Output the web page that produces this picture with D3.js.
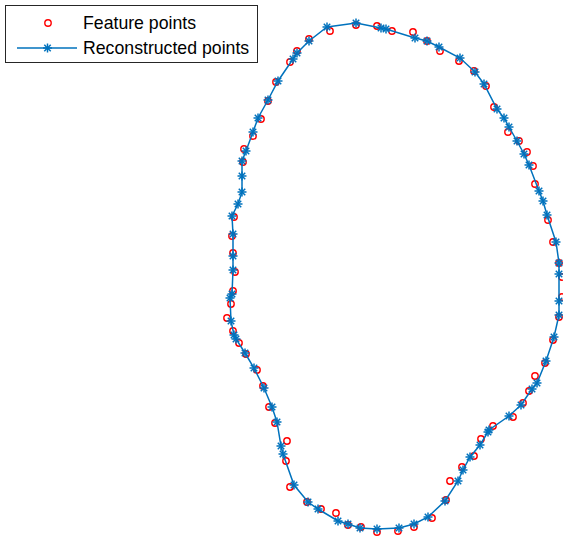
<!DOCTYPE html>
<html>
<head>
<meta charset="utf-8">
<script src="https://cdn.jsdelivr.net/npm/d3@7"></script>
<style>
    body { margin: 0; background: #fff; }
    svg { display: block; }
</style>
</head>
<body>
<div id="chart"></div>
<script>
// feature points (measured contour)
var featureX = [-3.9, -1.8, -0.3, 1.8, 3.2, 4.5, 6.4, 7.9, 9.1, 9.9, 11.3, 12.4, 13.2, 13.8, 14.0, 15.3, 15.8, 16.4, 16.7, 16.7,
    16.4, 15.8, 15.0, 14.0, 13.4, 12.8, 11.8, 9.8, 8.6, 7.9, 6.7, 5.5, 5.1, 3.7, 1.9, 0.3, -1.8, -3.4, -4.7, -5.9,
    -7.4, -8.8, -10.5, -10.9, -10.8, -12.0, -12.6, -13.2, -13.8, -14.9, -15.6, -16.2, -16.8, -16.4, -16.2, -16.0, -16.2, -16.3, -16.1, -15.2,
    -15.1, -14.2, -13.4, -12.7, -11.9, -10.5, -9.8, -8.6, -6.5];
var featureY = [25.2, 25.1, 24.6, 24.5, 23.6, 22.6, 21.6, 20.6, 19.1, 17.0, 14.5, 13.6, 12.5, 11.1, 9.3, 5.7, 3.5, 1.4, 0.0, -2.0,
    -4.0, -6.3, -8.6, -9.9, -11.4, -12.6, -14.0, -14.9, -16.2, -17.9, -19.0, -20.4, -22.3, -24.1, -25.0, -25.4, -25.5, -25.0, -24.8, -23.6,
    -23.2, -22.5, -21.0, -18.4, -16.4, -14.6, -13.0, -10.9, -9.3, -7.7, -6.6, -5.4, -4.1, -2.7, -1.4, 0.5, 2.4, 4.1, 6.0, 11.5,
    12.8, 14.1, 15.8, 17.6, 19.5, 21.5, 22.6, 23.8, 24.6];

// reconstructed points (closed curve)
var reconX = [-3.9, -1.4, -0.9, 2.0, 3.2, 4.4, 6.5, 8.0, 8.9, 10.2, 10.9, 11.4, 12.2, 12.9, 13.4, 14.4, 14.8, 15.2, 16.1, 16.4,
    16.4, 16.4, 16.4, 15.9, 15.1, 14.2, 13.7, 12.6, 11.4, 9.4, 9.3, 8.5, 7.5, 6.8, 6.3, 5.0, 3.3, 1.9, 0.4, -1.8,
    -3.5, -4.7, -5.7, -7.7, -8.7, -10.1, -11.2, -11.4, -11.8, -12.3, -13.1, -14.1, -15.0, -15.9, -16.1, -16.4, -16.5, -16.3, -16.2, -16.2,
    -16.2, -16.3, -15.7, -15.3, -15.3, -15.3, -14.9, -14.2, -13.7, -12.7, -11.7, -10.2, -9.8, -8.6, -6.8];
var reconY = [25.4, 24.9, 24.8, 23.9, 23.6, 23.0, 21.9, 20.5, 19.3, 16.8, 15.9, 15.0, 13.6, 12.3, 11.2, 8.6, 7.6, 6.2, 3.5, 1.4,
    0.3, -2.4, -3.8, -6.0, -8.4, -10.6, -11.2, -12.8, -13.9, -15.3, -15.5, -16.8, -18.0, -19.3, -20.4, -22.4, -24.0, -24.7, -25.1, -25.2,
    -25.1, -24.7, -24.4, -23.2, -22.5, -20.8, -17.7, -16.9, -14.5, -13.0, -11.1, -9.1, -7.6, -6.2, -5.8, -4.4, -2.1, -1.7, 0.7, 2.1,
    4.3, 6.1, 7.3, 8.5, 10.1, 11.6, 12.6, 14.5, 15.9, 17.7, 19.6, 21.8, 22.4, 23.6, 25.0];

var legendLabels = ["Feature points", "Reconstructed points"];

var BLUE = "#0072BD";
var RED = "#FF0000";

var width = 563, height = 538;

var svg = d3.select("#chart")
    .append("svg")
    .attr("width", width)
    .attr("height", height);

// equal aspect, 10 px per unit
var x = d3.scaleLinear().domain([-17, 17]).range([225, 565]);
var y = d3.scaleLinear().domain([-26, 26]).range([537, 17]);

var feature = featureX.map(function (d, i) { return { x: d, y: featureY[i] }; });
var recon = reconX.map(function (d, i) { return { x: d, y: reconY[i] }; });

// asterisk marker: plus + cross
function star(g, s) {
    var d = s * 0.72;
    g.append("line").attr("x1", -s).attr("y1", 0).attr("x2", s).attr("y2", 0);
    g.append("line").attr("x1", 0).attr("y1", -s).attr("x2", 0).attr("y2", s);
    g.append("line").attr("x1", -d).attr("y1", -d).attr("x2", d).attr("y2", d);
    g.append("line").attr("x1", -d).attr("y1", d).attr("x2", d).attr("y2", -d);
}

// feature points first
svg.append("g")
    .selectAll("circle")
    .data(feature)
    .enter()
    .append("circle")
    .attr("cx", function (d) { return x(d.x); })
    .attr("cy", function (d) { return y(d.y); })
    .attr("r", 3.2)
    .attr("fill", "none")
    .attr("stroke", RED)
    .attr("stroke-width", 1.4);

// reconstructed curve
var line = d3.line()
    .x(function (d) { return x(d.x); })
    .y(function (d) { return y(d.y); })
    .curve(d3.curveLinearClosed);

svg.append("path")
    .attr("d", line(recon))
    .attr("fill", "none")
    .attr("stroke", BLUE)
    .attr("stroke-width", 1.5);

svg.append("g")
    .attr("stroke", BLUE)
    .attr("stroke-width", 1.5)
    .selectAll("g")
    .data(recon)
    .enter()
    .append("g")
    .attr("transform", function (d) { return "translate(" + x(d.x) + "," + y(d.y) + ")"; })
    .each(function () { star(d3.select(this), 4.5); });

// legend
var legend = svg.append("g").attr("transform", "translate(5.5,5.5)");

legend.append("rect")
    .attr("width", 252)
    .attr("height", 57)
    .attr("fill", "#fff")
    .attr("stroke", "#262626")
    .attr("stroke-width", 1);

legend.append("circle")
    .attr("cx", 42.5)
    .attr("cy", 17.5)
    .attr("r", 3.2)
    .attr("fill", "none")
    .attr("stroke", RED)
    .attr("stroke-width", 1.4);

legend.append("line")
    .attr("x1", 11.5).attr("x2", 71.5)
    .attr("y1", 42.5).attr("y2", 42.5)
    .attr("stroke", BLUE)
    .attr("stroke-width", 1.5);

var ls = legend.append("g")
    .attr("transform", "translate(42,42.5)")
    .attr("stroke", BLUE)
    .attr("stroke-width", 1.5);
star(ls, 4.5);

legend.selectAll("text")
    .data(legendLabels)
    .enter()
    .append("text")
    .attr("x", 77.5)
    .attr("y", function (d, i) { return 17.5 + i * 25; })
    .attr("dy", "0.36em")
    .style("font-family", "Liberation Sans, Arial, sans-serif")
    .style("font-size", "17.7px")
    .style("fill", "#000")
    .text(function (d) { return d; });
</script>
</body>
</html>
